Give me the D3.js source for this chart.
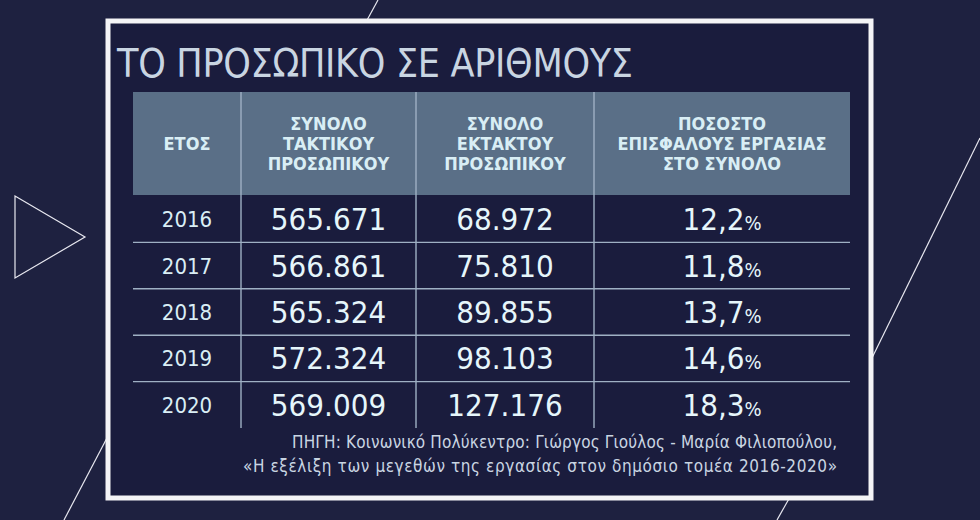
<!DOCTYPE html>
<html lang="el">
<head>
<meta charset="utf-8"/>
<title>Το προσωπικό σε αριθμούς</title>
<script src="https://cdn.jsdelivr.net/npm/d3@7"></script>
<style>
  body { margin: 0; background: #1e2140; }
  svg { display: block; }
  text { font-family: "DejaVu Sans Condensed", "Liberation Sans Narrow", sans-serif; }
</style>
</head>
<body>
<svg id="chart" width="980" height="520"></svg>
<script>
const years = ['2016', '2017', '2018', '2019', '2020'];
const regular = ['565.671', '566.861', '565.324', '572.324', '569.009'];
const temporary = ['68.972', '75.810', '89.855', '98.103', '127.176'];
const precarious = ['12,2', '11,8', '13,7', '14,6', '18,3'];
const headers = [
  ['ΕΤΟΣ'],
  ['ΣΥΝΟΛΟ', 'ΤΑΚΤΙΚΟΥ', 'ΠΡΟΣΩΠΙΚΟΥ'],
  ['ΣΥΝΟΛΟ', 'ΕΚΤΑΚΤΟΥ', 'ΠΡΟΣΩΠΙΚΟΥ'],
  ['ΠΟΣΟΣΤΟ', 'ΕΠΙΣΦΑΛΟΥΣ ΕΡΓΑΣΙΑΣ', 'ΣΤΟ ΣΥΝΟΛΟ']
];
const colEdges = [133, 241, 416, 594, 850];
const source = [
  'ΠΗΓΗ: Κοινωνικό Πολύκεντρο: Γιώργος Γιούλος - Μαρία Φιλιοπούλου,',
  '«Η εξέλιξη των μεγεθών της εργασίας στον δημόσιο τομέα 2016-2020»'
];

const svg = d3.select('#chart');

// background decorations
const deco = svg.append('g').attr('fill', 'none').attr('stroke', '#e8e8f0').attr('stroke-width', 1.2);
deco.append('path').attr('d', 'M15,196 L85,237 L15,278 Z');
deco.append('line').attr('x1', 378).attr('y1', 0).attr('x2', 366).attr('y2', 22);
deco.append('line').attr('x1', 980).attr('y1', 138).attr('x2', 870).attr('y2', 362);
deco.append('line').attr('x1', 108).attr('y1', 436).attr('x2', 64).attr('y2', 520);
deco.append('line').attr('x1', 790).attr('y1', 497).attr('x2', 777).attr('y2', 520);

// frame
svg.append('rect').attr('x', 108).attr('y', 21).attr('width', 763).attr('height', 477)
  .attr('fill', '#1a1c3d').attr('stroke', '#f4f4f6').attr('stroke-width', 5);

svg.append('text').attr('x', 117).attr('y', 77).attr('fill', '#c9d5e2')
  .attr('font-size', 39).attr('font-weight', 300).attr('textLength', 516).text('ΤΟ ΠΡΟΣΩΠΙΚΟ ΣΕ ΑΡΙΘΜΟΥΣ');

// header band
svg.append('rect').attr('x', colEdges[0]).attr('y', 92).attr('width', colEdges[4] - colEdges[0]).attr('height', 103)
  .attr('fill', '#5a6f87');

const y = d3.scaleBand().domain(years).range([196, 428]);
const centers = colEdges.slice(0, -1).map((e, i) => (e + colEdges[i + 1]) / 2);

headers.forEach((lines, i) => {
  const t = svg.append('text').attr('text-anchor', 'middle').attr('fill', '#d9eef5')
    .attr('font-size', 18).attr('font-weight', 'bold');
  const y0 = 144 - (lines.length - 1) * 10;
  lines.forEach((l, j) => t.append('tspan').attr('x', centers[i]).attr('y', y0 + j * 20 + 6).text(l));
});

// grid lines
const grid = svg.append('g').attr('stroke', '#9fb0c4').attr('stroke-width', 1.4);
grid.selectAll('line.h').data(years.slice(1)).join('line')
  .attr('x1', colEdges[0]).attr('x2', colEdges[4])
  .attr('y1', d => y(d)).attr('y2', d => y(d));
grid.selectAll('line.v').data(colEdges.slice(1, -1)).join('line')
  .attr('x1', d => d).attr('x2', d => d).attr('y1', 92).attr('y2', 428);

const rows = svg.append('g').selectAll('g').data(years).join('g')
  .attr('transform', d => `translate(0,${y(d) + y.bandwidth() / 2})`);
rows.append('text').attr('x', centers[0]).attr('y', 8).attr('text-anchor', 'middle')
  .attr('fill', '#d9eef5').attr('font-size', 22).text(d => d);
rows.append('text').attr('x', centers[1]).attr('y', 11).attr('text-anchor', 'middle')
  .attr('fill', '#e6f6fb').attr('font-size', 31).text((d, i) => regular[i]);
rows.append('text').attr('x', centers[2]).attr('y', 11).attr('text-anchor', 'middle')
  .attr('fill', '#e6f6fb').attr('font-size', 31).text((d, i) => temporary[i]);
const pc = rows.append('text').attr('x', centers[3]).attr('y', 11).attr('text-anchor', 'middle')
  .attr('fill', '#e6f6fb').attr('font-size', 31);
pc.append('tspan').text((d, i) => precarious[i]);
pc.append('tspan').attr('font-size', 20).text('%');

svg.selectAll('text.src').data(source).join('text').attr('class', 'src')
  .attr('x', 837).attr('y', (d, i) => 448 + i * 24).attr('text-anchor', 'end')
  .attr('fill', '#c9d5e2').attr('font-size', 17).attr('textLength', (d, i) => i ? 594 : 545).text(d => d);
</script>
</body>
</html>
